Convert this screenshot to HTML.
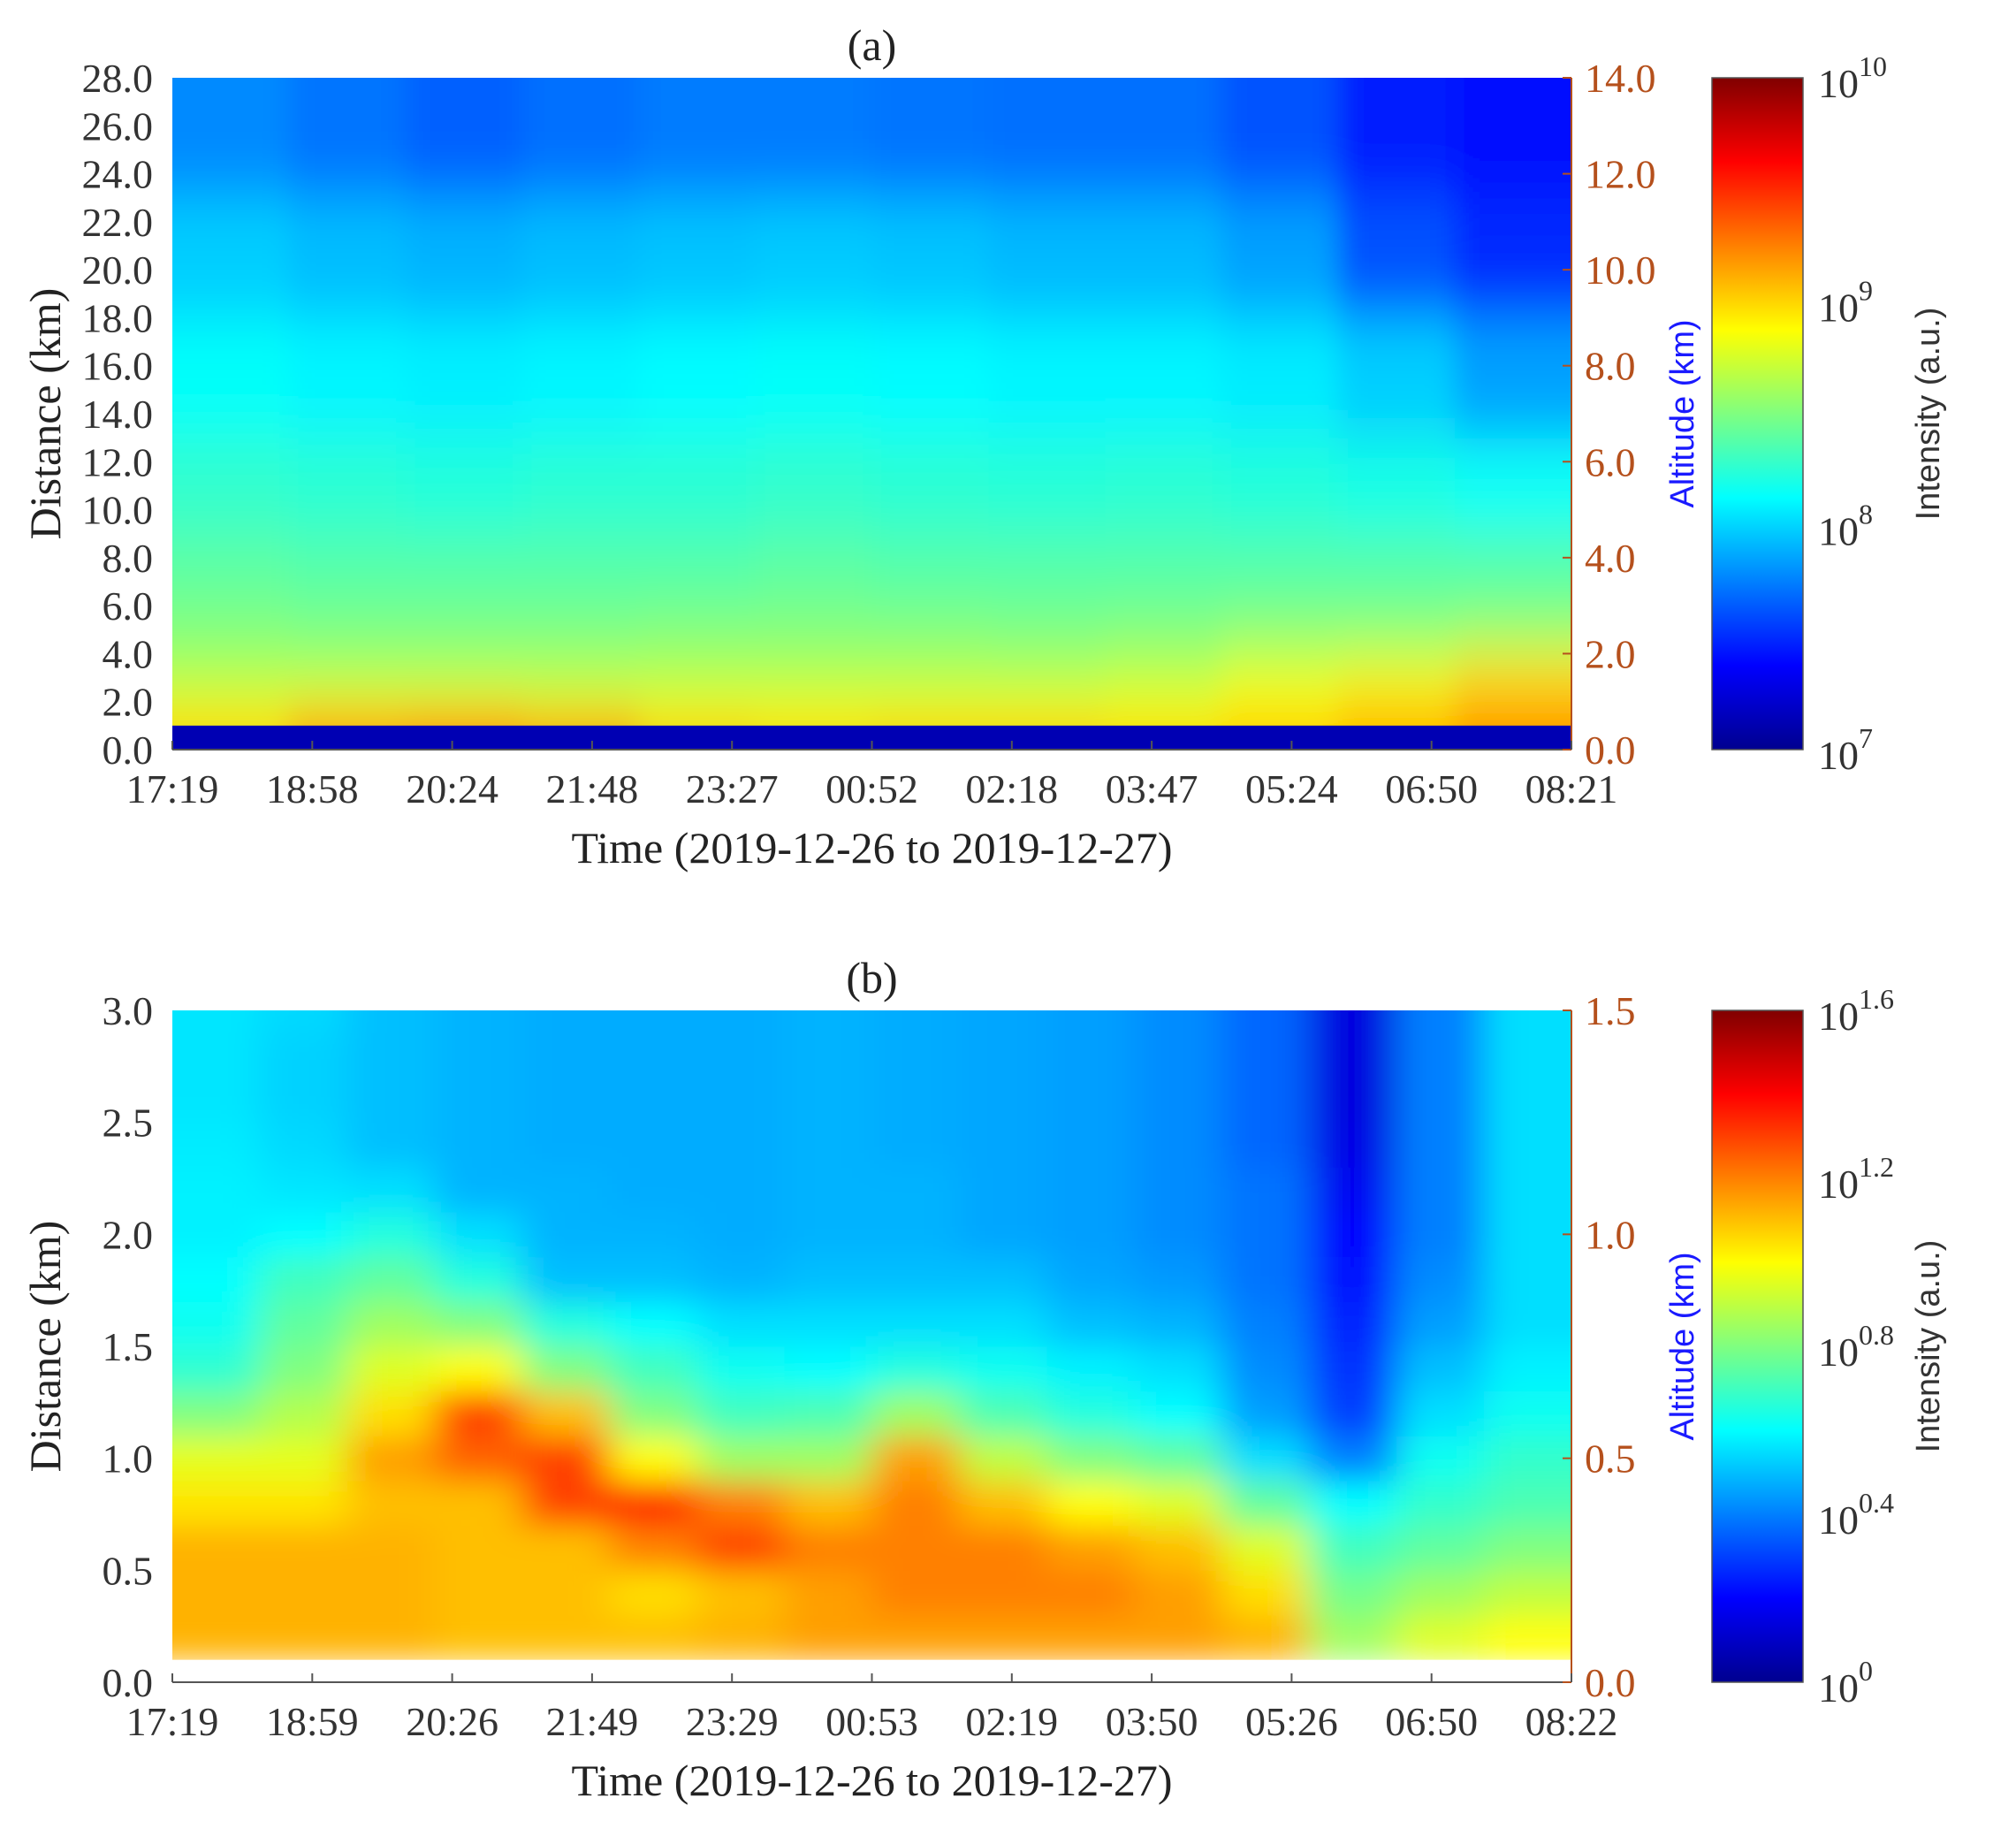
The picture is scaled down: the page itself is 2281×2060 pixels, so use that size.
<!DOCTYPE html>
<html><head><meta charset="utf-8"><style>
html,body{margin:0;padding:0;background:#fff;}
svg{display:block;}
.tk{font-family:"Liberation Serif",serif;font-size:46px;fill:#333;}
.rt{font-family:"Liberation Serif",serif;font-size:46px;fill:#b5501c;}
.ttl{font-family:"Liberation Serif",serif;font-size:50px;fill:#222;}
.sans{font-family:"Liberation Sans",sans-serif;font-size:38px;}
</style></head><body>
<svg id="fig" width="2281" height="2060" viewBox="0 0 2281 2060" xmlns="http://www.w3.org/2000/svg">
<defs>
<filter id="blurA" x="-5%" y="-8%" width="110%" height="116%"><feGaussianBlur stdDeviation="16 34"/></filter>
<filter id="blurB" x="-5%" y="-5%" width="110%" height="110%"><feGaussianBlur stdDeviation="22 18"/></filter>
<clipPath id="clipA"><rect x="195" y="88" width="1583" height="760"/></clipPath>
<clipPath id="clipB"><rect x="195" y="1143" width="1583" height="760"/></clipPath>
<linearGradient id="jet" x1="0" y1="1" x2="0" y2="0">
<stop offset="0" stop-color="#00008f"/><stop offset="0.125" stop-color="#0000ff"/>
<stop offset="0.375" stop-color="#00ffff"/><stop offset="0.625" stop-color="#ffff00"/>
<stop offset="0.875" stop-color="#ff0000"/><stop offset="1" stop-color="#800000"/>
</linearGradient>
</defs>
</svg>
<script>
// ---- Panel (a) data ----
const aTimeLabels = ["17:19","18:58","20:24","21:48","23:27","00:52","02:18","03:47","05:24","06:50","08:21"];
const aLeftTicks = [0,2,4,6,8,10,12,14,16,18,20,22,24,26,28];
const aRightTicks = [0,2,4,6,8,10,12,14];
const aRowEdges = [0,1.0,1.5,2.2,3,4,6,9,13,18,23,28];
const aCbTicks = [7,8,9,10];
const aFloorValue = 7.15;
const aValues = [ // columns (12 time bins) x rows (bottom->top), log10 intensity
 [9.0,9.0,8.8,8.72,8.62,8.52,8.4,8.27,8.14,7.98,7.78],
 [9.2,9.15,8.85,8.72,8.62,8.5,8.38,8.25,8.1,7.93,7.72],
 [9.25,9.2,8.85,8.72,8.62,8.5,8.38,8.23,8.08,7.9,7.66],
 [9.2,9.05,8.8,8.72,8.62,8.5,8.38,8.25,8.1,7.93,7.7],
 [9.05,8.9,8.8,8.72,8.62,8.52,8.38,8.25,8.12,7.95,7.74],
 [9.0,8.9,8.8,8.72,8.62,8.52,8.4,8.27,8.14,7.97,7.74],
 [9.05,8.9,8.8,8.72,8.62,8.52,8.38,8.25,8.12,7.95,7.72],
 [9.05,8.9,8.8,8.72,8.62,8.5,8.38,8.24,8.1,7.92,7.7],
 [9.0,8.9,8.82,8.75,8.65,8.52,8.38,8.25,8.1,7.92,7.7],
 [9.05,8.95,8.9,8.85,8.75,8.55,8.38,8.23,8.07,7.85,7.62],
 [9.1,9.05,9.0,8.92,8.8,8.55,8.38,8.2,7.98,7.62,7.45],
 [9.2,9.15,9.1,9.02,8.95,8.58,8.38,8.15,7.85,7.5,7.4]
];
// ---- Panel (b) data ----
const bTimeLabels = ["17:19","18:59","20:26","21:49","23:29","00:53","02:19","03:50","05:26","06:50","08:22"];
const bLeftTicks = [0,0.5,1.0,1.5,2.0,2.5,3.0];
const bRightTicks = [0,0.5,1.0,1.5];
const bRowEdges = [0.1,0.3,0.5,0.7,0.9,1.1,1.3,1.5,1.7,1.9,2.1,2.3,2.5,2.7,2.9,3.1];
const bCbTicks = [0,0.4,0.8,1.2,1.6];
const bValues = [
 [1.12,1.12,1.12,1.04,0.96,0.8,0.67,0.62,0.6,0.58,0.58,0.57,0.56,0.56,0.56],
 [1.12,1.12,1.12,1.04,0.96,0.88,0.8,0.75,0.7,0.6,0.56,0.54,0.53,0.53,0.54],
 [1.12,1.12,1.12,1.1,1.15,1.05,0.95,0.85,0.75,0.65,0.55,0.5,0.5,0.5,0.5],
 [1.1,1.1,1.1,1.1,1.25,1.3,1.0,0.8,0.65,0.55,0.48,0.48,0.48,0.48,0.48],
 [1.1,1.1,1.1,1.3,1.3,1.1,0.8,0.65,0.5,0.48,0.48,0.47,0.47,0.47,0.47],
 [1.1,1.05,1.2,1.35,1.0,0.8,0.7,0.6,0.5,0.48,0.47,0.47,0.47,0.47,0.47],
 [1.12,1.1,1.3,1.2,0.85,0.7,0.62,0.55,0.48,0.47,0.47,0.47,0.47,0.47,0.47],
 [1.15,1.15,1.2,1.1,0.85,0.72,0.6,0.55,0.5,0.48,0.48,0.48,0.48,0.48,0.48],
 [1.15,1.2,1.2,1.2,1.15,0.85,0.65,0.55,0.5,0.48,0.48,0.47,0.47,0.47,0.47],
 [1.15,1.2,1.2,1.1,0.9,0.72,0.62,0.55,0.5,0.46,0.46,0.46,0.46,0.46,0.46],
 [1.15,1.2,1.15,1.0,0.8,0.65,0.58,0.5,0.46,0.45,0.45,0.45,0.45,0.45,0.45],
 [1.15,1.15,1.1,0.95,0.75,0.6,0.55,0.48,0.44,0.42,0.42,0.42,0.42,0.42,0.42],
 [1.12,1.05,0.95,0.75,0.55,0.45,0.42,0.4,0.38,0.38,0.38,0.36,0.36,0.36,0.36],
 [0.85,0.78,0.7,0.6,0.4,0.3,0.28,0.25,0.22,0.2,0.18,0.16,0.15,0.15,0.15],
 [0.95,0.85,0.75,0.68,0.62,0.55,0.5,0.45,0.42,0.4,0.4,0.4,0.4,0.4,0.4],
 [1.0,0.9,0.8,0.72,0.68,0.62,0.58,0.55,0.55,0.55,0.55,0.55,0.55,0.55,0.55]
];

const NS = "http://www.w3.org/2000/svg";
const svg = document.getElementById('fig');
function mk(tag, attrs, parent){ const e=document.createElementNS(NS,tag); for(const k in attrs) e.setAttribute(k,attrs[k]); (parent||svg).appendChild(e); return e; }
function clamp(v){return Math.max(0,Math.min(1,v));}
function jet(t){ t=clamp(t);
  const r=clamp(1.5-Math.abs(4*t-3)), g=clamp(1.5-Math.abs(4*t-2)), b=clamp(1.5-Math.abs(4*t-1));
  return `rgb(${Math.round(r*255)},${Math.round(g*255)},${Math.round(b*255)})`; }

const X0=195, X1=1778, CBX0=1937, CBX1=2040;

function panel(cfg){
  const {y0,y1,dMax,rMax,vmin,vmax,values,rowEdges,timeLabels,leftTicks,rightTicks,cbTicks,title,name,blur,clip,leftFmt,rightFmt} = cfg;
  const xs = i => X0 + (X1-X0)*i/values.length;
  const ys = d => y1 - (y1-y0)*d/dMax;
  const g = mk('g',{});
  
  
  const inner = mk('g',{'clip-path':`url(#${clip})`}, g);
  if(cfg.white) mk('rect',{x:X0,y:y0,width:X1-X0,height:y1-y0,fill:'#fff'},inner);
  const bl = mk('g',{filter:`url(#${blur})`}, inner);
  for(let c=0;c<values.length;c++){
    for(let r=0;r<values[c].length;r++){
      const t=(values[c][r]-vmin)/(vmax-vmin);
      let xa=xs(c), xb=xs(c+1);
      if(c===0) xa-=60; if(c===values.length-1) xb+=60;
      let yt=ys(rowEdges[r+1]), yb=ys(rowEdges[r]);
      if(r===values[c].length-1) yt-=80;
      if(r===0 && !cfg.white) yb+=60;
      const cell = mk('rect',{x:xa,y:yt,width:xb-xa+0.5,height:yb-yt+0.5,fill:jet(t)}, bl);
      
      
    }
  }
  if(cfg.floorBand){
    const fb = mk('rect',{x:X0,y:ys(cfg.floorBand),width:X1-X0,height:y1-ys(cfg.floorBand),fill:jet((cfg.floorValue-vmin)/(vmax-vmin))}, inner);
    
    
  }
  if(cfg.white){
    mk('rect',{x:X0,y:ys(rowEdges[0]),width:X1-X0,height:y1-ys(rowEdges[0])+1,fill:'#fff'},inner);
  }
  const ax = mk('g',{stroke:'#555','stroke-width':2,fill:'none'});
  
  
  mk('line',{x1:X0,y1:y1,x2:X1,y2:y1},ax);
  mk('line',{x1:X1,y1:y0,x2:X1,y2:y1,stroke:'#b5501c'},ax);
  leftTicks.forEach(v=>{
    const t=mk('text',{x:173,y:ys(v)+16,'text-anchor':'end',class:'tk'}); t.textContent=leftFmt(v);
    
    
  });
  rightTicks.forEach(v=>{
    const yy=y1-(y1-y0)*v/rMax;
    mk('line',{x1:X1,y1:yy,x2:X1-10,y2:yy,stroke:'#b5501c','stroke-width':2});
    const t=mk('text',{x:1793,y:yy+16,class:'rt'}); t.textContent=rightFmt(v);
    
    
  });
  timeLabels.forEach((s,i)=>{
    const xx=X0+(X1-X0)*i/(timeLabels.length-1);
    mk('line',{x1:xx,y1:y1,x2:xx,y2:y1-10,stroke:'#555','stroke-width':2});
    const t=mk('text',{x:xx,y:y1+60,'text-anchor':'middle',class:'tk'}); t.textContent=s;
    
    
  });
  let t=mk('text',{x:(X0+X1)/2,y:y1+128,'text-anchor':'middle',class:'ttl'}); t.textContent='Time (2019-12-26 to 2019-12-27)';
  
  
  const cy=(y0+y1)/2;
  t=mk('text',{x:0,y:0,'text-anchor':'middle',class:'ttl',transform:`translate(68,${cy}) rotate(-90)`}); t.textContent='Distance (km)';
  
  
  t=mk('text',{x:0,y:0,'text-anchor':'middle',class:'sans',fill:'#1a1aff',transform:`translate(1916,${cy}) rotate(-90)`}); t.textContent='Altitude (km)';
  
  
  t=mk('text',{x:(X0+X1)/2,y:y0-20,'text-anchor':'middle',class:'ttl'}); t.textContent=title;
  
  
  const cb=mk('rect',{x:CBX0,y:y0,width:CBX1-CBX0,height:y1-y0,fill:'url(#jet)',stroke:'#555','stroke-width':1.5});
  
  
  cbTicks.forEach(v=>{
    const yy=y1-(y1-y0)*(v-vmin)/(vmax-vmin);
    const tt=mk('text',{x:2057,y:yy+22,class:'tk'});
    
    
    const s1=mk('tspan',{},tt); s1.textContent='10';
    const s2=mk('tspan',{dy:-24,'font-size':'32px'},tt); s2.textContent=String(v);
  });
  t=mk('text',{x:0,y:0,'text-anchor':'middle',class:'sans',fill:'#333',transform:`translate(2194,${cy}) rotate(-90)`}); t.textContent='Intensity (a.u.)';
  
  
}

panel({y0:88,y1:848,dMax:28,rMax:14,vmin:7,vmax:10,values:aValues,rowEdges:aRowEdges,timeLabels:aTimeLabels,
  leftTicks:aLeftTicks,rightTicks:aRightTicks,cbTicks:aCbTicks,title:'(a)',name:'panel-a',blur:'blurA',clip:'clipA',
  floorBand:1.0,floorValue:aFloorValue,leftFmt:v=>v.toFixed(1),rightFmt:v=>v.toFixed(1)});
panel({y0:1143,y1:1903,dMax:3,rMax:1.5,vmin:0,vmax:1.6,values:bValues,rowEdges:bRowEdges,timeLabels:bTimeLabels,
  leftTicks:bLeftTicks,rightTicks:bRightTicks,cbTicks:bCbTicks,title:'(b)',name:'panel-b',blur:'blurB',clip:'clipB',
  white:true,leftFmt:v=>v.toFixed(1),rightFmt:v=>v.toFixed(1)});
</script>
</body></html>
